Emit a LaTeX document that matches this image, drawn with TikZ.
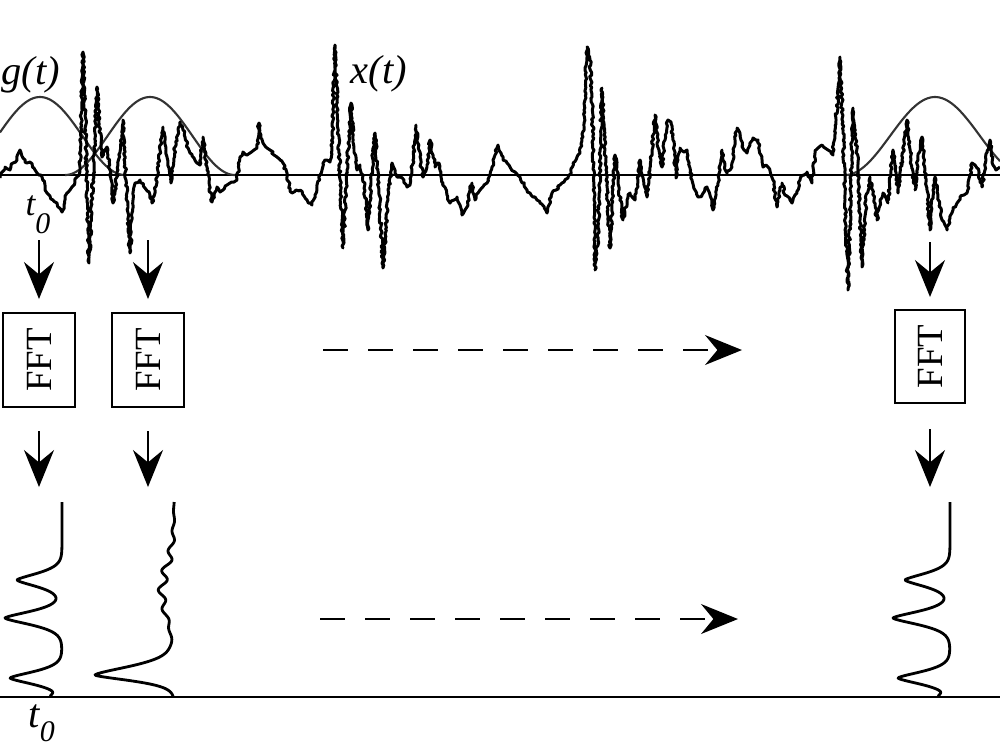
\documentclass[tikz,border=0pt]{standalone}
\usepackage{fontspec}
\setmainfont{Liberation Serif}
\usetikzlibrary{arrows.meta,decorations.pathmorphing}
\begin{document}
\pgfmathsetseed{12}
\begin{tikzpicture}[x=0.01cm,y=-0.01cm,
  declare function={gs(\d,\w)=exp(-min((\d/\w)*(\d/\w),9));
                    gv(\d,\w)=exp(-min(abs(\d)/\w*sqrt(abs(\d)/\w),9));},
  axisline/.style={line width=0.6pt},
  signal/.style={line width=0.85pt, line join=round, decorate, decoration={random steps, segment length=0.7pt, amplitude=0.35pt}},
  window/.style={line width=0.6pt, black!80},
  spec/.style={line width=0.8pt, line join=round},
  fftbox/.style={draw, line width=0.55pt, minimum width=7.2mm, minimum height=9.4mm, inner sep=0pt, font=\fontsize{10.5}{12}\selectfont},
  arr/.style={line width=0.65pt, -{Stealth[length=10.5pt, width=8.5pt, inset=3.5pt]}},
  darr/.style={arr, dash pattern=on 7pt off 5.8pt},
  lbl/.style={inner sep=0pt, font=\fontsize{11.5}{13}\selectfont\itshape, anchor=base west},
  tlbl/.style={inner sep=0pt, font=\fontsize{10}{12}\selectfont\itshape, anchor=base west}
]
\useasboundingbox (0,0) rectangle (1000,750);
\fill[white] (0,0) rectangle (1000,750);

% axes
\coordinate (axL) at (0,175);
\coordinate (axR) at (1000,175);
\coordinate (bxL) at (0,697);
\coordinate (bxR) at (1000,697);
\draw[axisline] (axL) -- (axR);
\draw[axisline] (bxL) -- (bxR);

% windows g(t)
\draw[window] plot[domain=0:125, samples=80] (\x, {175-39-39*cos(2.1176*(\x-40))});
\draw[window] plot[domain=65:235, samples=100] (\x, {175-39-39*cos(2.1176*(\x-150))});
\draw[window] plot[domain=845:1000, samples=100] (\x, {175-39-39*cos(2*(\x-935))});

% signal x(t)
\draw[signal] (0,178) -- (5,167) -- (10,170) -- (13,163) -- (17,160) -- (20,150) -- (23,158) -- (25,162) -- (30,162) -- (34,168) -- (37,173) -- (42,177) -- (45,185) -- (47,193) -- (50,196) -- (53,200) -- (57,203) -- (62,212) -- (64,205) -- (67,193) -- (70,190) -- (72,187) -- (75,182) -- (77,177) -- (80,170) -- (83,52) -- (86,150) -- (89,263) -- (93,180) -- (97,87) -- (100,130) -- (102,157) -- (105,150) -- (107,147) -- (110,170) -- (113,203) -- (118,170) -- (123,120) -- (126,180) -- (130,253) -- (133,200) -- (135,183) -- (140,180) -- (145,188) -- (150,195) -- (152,203) -- (155,190) -- (157,177) -- (160,150) -- (163,127) -- (166,150) -- (168,163) -- (171,183) -- (175,147) -- (180,122) -- (183,130) -- (185,137) -- (188,148) -- (190,153) -- (194,158) -- (197,163) -- (200,165) -- (203,137) -- (207,170) -- (212,202) -- (215,192) -- (217,187) -- (220,192) -- (223,190) -- (227,185) -- (230,183) -- (234,182) -- (237,180) -- (240,157) -- (243,152) -- (247,155) -- (250,153) -- (254,150) -- (257,148) -- (259,123) -- (261,135) -- (263,143) -- (267,148) -- (270,150) -- (274,155) -- (277,157) -- (280,160) -- (283,163) -- (287,177) -- (290,188) -- (292,193) -- (296,190) -- (300,190) -- (304,196) -- (307,200) -- (312,205) -- (315,195) -- (317,187) -- (320,175) -- (322,170) -- (325,160) -- (327,160) -- (330,162) -- (332,150) -- (335,45) -- (339,150) -- (343,248) -- (347,170) -- (351,103) -- (354,150) -- (357,170) -- (360,165) -- (363,175) -- (368,230) -- (371,180) -- (375,133) -- (379,190) -- (383,268) -- (388,200) -- (392,163) -- (395,170) -- (397,177) -- (400,177) -- (404,180) -- (407,187) -- (410,185) -- (413,160) -- (416,125) -- (419,150) -- (423,177) -- (427,165) -- (430,140) -- (433,155) -- (435,167) -- (437,163) -- (439,163) -- (441,172) -- (443,183) -- (447,195) -- (450,203) -- (454,200) -- (457,197) -- (460,205) -- (462,215) -- (465,210) -- (467,207) -- (470,190) -- (472,183) -- (474,195) -- (475,200) -- (478,193) -- (480,190) -- (484,185) -- (487,183) -- (490,175) -- (492,167) -- (495,155) -- (498,145) -- (501,153) -- (503,160) -- (507,163) -- (510,167) -- (515,172) -- (520,177) -- (524,185) -- (527,190) -- (530,193) -- (533,197) -- (537,200) -- (540,203) -- (544,208) -- (547,213) -- (549,205) -- (552,193) -- (556,190) -- (560,185) -- (564,182) -- (568,178) -- (571,172) -- (573,163) -- (577,157) -- (580,153) -- (583,137) -- (585,100) -- (587,47) -- (590,60) -- (592,97) -- (594,200) -- (595,270) -- (598,240) -- (602,88) -- (606,170) -- (610,248) -- (613,190) -- (615,155) -- (619,190) -- (623,220) -- (627,200) -- (630,193) -- (633,198) -- (635,200) -- (638,180) -- (640,160) -- (644,185) -- (647,197) -- (651,160) -- (655,115) -- (659,150) -- (662,167) -- (665,140) -- (668,120) -- (671,122) -- (673,140) -- (676,178) -- (678,160) -- (680,148) -- (684,152) -- (687,150) -- (690,168) -- (692,180) -- (695,190) -- (698,197) -- (702,195) -- (707,187) -- (710,195) -- (713,210) -- (716,195) -- (718,183) -- (720,165) -- (722,150) -- (725,165) -- (727,173) -- (730,170) -- (732,163) -- (735,140) -- (737,128) -- (741,140) -- (744,150) -- (747,153) -- (750,145) -- (753,138) -- (756,140) -- (758,140) -- (761,155) -- (763,167) -- (766,165) -- (768,167) -- (771,175) -- (773,180) -- (775,195) -- (777,207) -- (780,190) -- (782,183) -- (785,195) -- (787,196) -- (790,200) -- (792,203) -- (795,195) -- (797,193) -- (800,180) -- (804,175) -- (807,172) -- (810,178) -- (812,183) -- (815,153) -- (818,148) -- (822,145) -- (825,148) -- (828,150) -- (831,153) -- (833,155) -- (836,120) -- (840,57) -- (843,130) -- (845,200) -- (848,290) -- (851,180) -- (853,108) -- (856,140) -- (858,170) -- (860,220) -- (862,267) -- (866,200) -- (870,177) -- (874,200) -- (877,220) -- (880,200) -- (883,193) -- (886,198) -- (888,203) -- (891,170) -- (893,150) -- (896,175) -- (898,193) -- (902,160) -- (907,120) -- (911,160) -- (915,190) -- (918,160) -- (922,137) -- (926,180) -- (930,230) -- (933,190) -- (935,177) -- (938,195) -- (942,220) -- (945,225) -- (947,230) -- (950,218) -- (953,210) -- (957,203) -- (960,197) -- (964,195) -- (967,193) -- (970,175) -- (972,163) -- (975,165) -- (977,168) -- (980,180) -- (982,187) -- (986,160) -- (990,140) -- (993,165) -- (996,170) -- (1000,167);

% labels
\node[lbl] (gl) at (1,84) {g(t)};
\node[lbl] (xl) at (350,83) {x(t)};
\node[tlbl] (t0a) at (25,215) {t\raisebox{-5.2pt}{\fontsize{8.5}{10}\selectfont 0}};
\node[lbl] (t0b) at (28,727) {t\raisebox{-4pt}{\fontsize{8.5}{10}\selectfont 0}};

% FFT boxes
\node[fftbox] (fft1) at (39,360) {\rotatebox{90}{FFT}};
\node[fftbox] (fft2) at (148,360) {\rotatebox{90}{FFT}};
\node[fftbox, minimum width=7.0mm, minimum height=9.3mm] (fft3) at (930,356.5) {\rotatebox{90}{FFT}};

% arrows into FFT
\coordinate (a1) at (39,240);
\coordinate (a2) at (148,240);
\coordinate (a3) at (930,242);
\draw[arr, shorten >=1.3mm] (a1) -- (fft1.north);
\draw[arr, shorten >=1.3mm] (a2) -- (fft2.north);
\draw[arr, shorten >=1.2mm] (a3) -- (fft3.north);

% arrows out of FFT
\coordinate (b1) at (39,487);
\coordinate (b2) at (148,487);
\coordinate (b3) at (930,487);
\draw[arr, shorten <=2.3mm] (fft1.south) -- (b1);
\draw[arr, shorten <=2.3mm] (fft2.south) -- (b2);
\draw[arr, shorten <=2.5mm] (fft3.south) -- (b3);

% dashed arrows
\coordinate (d1s) at (323,350);
\coordinate (d1e) at (742,350);
\coordinate (d2s) at (320,619);
\coordinate (d2e) at (738,619);
\draw[darr] (d1s) -- (d1e);
\draw[darr] (d2s) -- (d2e);

% spectra
\draw[spec] plot[domain=502:697, samples=260, variable=\y]
  ({62 - 45*gv(\y-580,9.5) - 57*gv(\y-618,9.5) - 52*gv(\y-678,9) - 9*gs(\y-697,4)}, \y);
\draw[spec] plot[domain=502:697, samples=300, variable=\y]
  ({174 - 79*gv(\y-675, 8+4.5*(\y<675)) - 12*gs(\y-592,36) - 4*gs(\y-578,45)*sin(18*(\y-545))}, \y);
\draw[spec] plot[domain=502:697, samples=260, variable=\y]
  ({950 - 45*gv(\y-580,9.5) - 57*gv(\y-618,9.5) - 52*gv(\y-678,9) - 9*gs(\y-697,4)}, \y);
\end{tikzpicture}
\end{document}
